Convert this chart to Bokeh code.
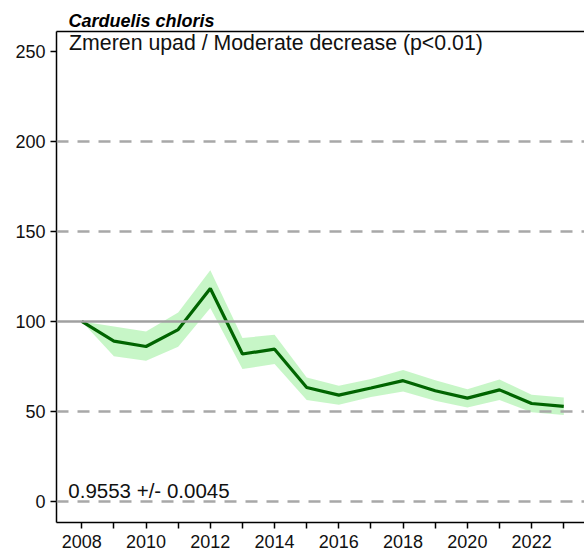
from bokeh.plotting import figure
from bokeh.models import (FixedTicker, LinearAxis, Span, Label, Range1d, ColumnDataSource)
from bokeh.embed import file_html
from bokeh.resources import INLINE

years = list(range(2008, 2024))
index = [100, 89.1, 86.1, 95.5, 118.3, 81.9, 84.6, 63.3, 59.1, 63.0, 67.1, 61.5, 57.4, 62.0, 54.4, 52.8]
upper = [100, 97.2, 94.4, 105.0, 128.5, 90.8, 92.6, 68.9, 64.3, 68.0, 73.0, 67.4, 62.4, 67.8, 59.3, 57.8]
lower = [100, 80.6, 78.2, 86.0, 107.5, 73.6, 76.3, 56.3, 53.7, 58.0, 61.1, 56.0, 52.2, 56.3, 49.5, 48.0]
y_ticks = [0, 50, 100, 150, 200, 250]
dashed_levels = [0, 50, 150, 200]
baseline_level = 100
title_text = "Carduelis chloris"
trend_text = "Zmeren upad / Moderate decrease (p<0.01)"
slope_text = "0.9553 +/- 0.0045"

FONT = "Liberation Sans"

src = ColumnDataSource(dict(year=years, index=index, upper=upper, lower=lower))

p = figure(width=584, height=553, output_backend="svg", toolbar_location=None,
           x_range=Range1d(2007.213, 2023.645), y_range=Range1d(-11.7, 261.1),
           min_border_left=56, min_border_right=0, min_border_top=31, min_border_bottom=31)
p.outline_line_color = None
p.xgrid.visible = False
p.ygrid.visible = False
p.background_fill_color = "white"
p.border_fill_color = "white"

p.title.text = title_text
p.title.text_font = FONT
p.title.text_font_style = "bold italic"
p.title.text_font_size = "18px"
p.title.text_color = "black"
p.title.offset = 12
p.title.standoff = 1

for lev in dashed_levels:
    p.add_layout(Span(location=lev, dimension="width", line_color="#a8a8a8",
                      line_width=2.5, line_dash="12 9"))
p.add_layout(Span(location=baseline_level, dimension="width", line_color="#a0a0a0", line_width=2.5))

p.varea(x="year", y1="lower", y2="upper", source=src, fill_color="#90ee90", fill_alpha=0.5)
p.line(x="year", y="index", source=src, line_color="#006400", line_width=3.2)

for ax in (p.xaxis[0], p.yaxis[0]):
    ax.axis_line_color = "black"
    ax.axis_line_width = 1.5
    ax.major_tick_line_color = "black"
    ax.major_tick_line_width = 1.5
    ax.major_tick_out = 6
    ax.major_tick_in = 0
    ax.minor_tick_line_color = None
    ax.major_label_text_font = FONT
    ax.major_label_text_font_size = "18px"
    ax.major_label_text_color = "#111111"

p.xaxis[0].ticker = FixedTicker(ticks=years)
p.xaxis[0].major_label_overrides = {y: (str(y) if y % 2 == 0 else "") for y in years}
p.xaxis[0].major_label_standoff = 6
p.yaxis[0].ticker = FixedTicker(ticks=y_ticks)
p.yaxis[0].major_label_standoff = 5

top_axis = LinearAxis(ticker=FixedTicker(ticks=[]), axis_line_color="black", axis_line_width=1.5,
                      major_label_text_font_size="0px", major_tick_line_color=None,
                      minor_tick_line_color=None)
p.add_layout(top_axis, "above")

p.add_layout(Label(x=2007.605, y=254.8, text=trend_text, text_font=FONT, text_font_size="21.3px",
                   text_color="#111111", text_baseline="alphabetic"))
p.add_layout(Label(x=2007.58, y=6.0, text=slope_text, text_font=FONT, text_font_size="20.5px",
                   text_color="#111111", text_baseline="alphabetic"))

open("out.html", "w").write(file_html(p, INLINE))
